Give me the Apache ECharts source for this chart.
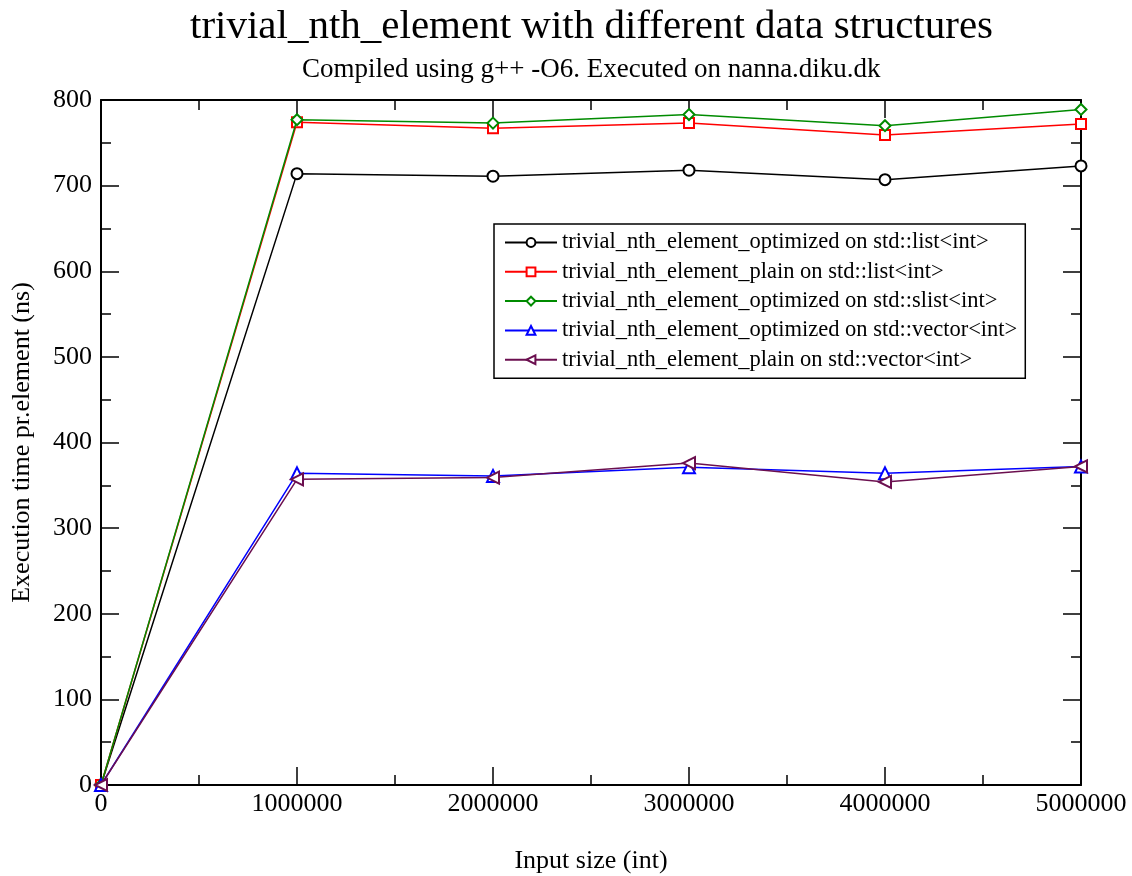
<!DOCTYPE html>
<html>
<head>
<meta charset="utf-8">
<script src="https://cdn.jsdelivr.net/npm/echarts@6/dist/echarts.min.js"></script>
<style>html,body{margin:0;padding:0;background:#fff}#c{width:1132px;height:876px}</style>
</head>
<body>
<div id="c"></div>
<script>
var xValues = [0, 1000000, 2000000, 3000000, 4000000, 5000000];
var optList = [0, 714, 711, 718, 707, 723];
var plainList = [0, 774, 767, 773, 759, 772];
var optSlist = [0, 777, 773, 783, 770, 789];
var optVector = [0, 364, 361, 371, 364, 372];
var plainVector = [0, 357, 359, 376, 354, 372];
var seriesNames = [
  'trivial_nth_element_optimized on std::list<int>',
  'trivial_nth_element_plain on std::list<int>',
  'trivial_nth_element_optimized on std::slist<int>',
  'trivial_nth_element_optimized on std::vector<int>',
  'trivial_nth_element_plain on std::vector<int>'
];
var seriesData = [optList, plainList, optSlist, optVector, plainVector];
var colors = ['#000000', '#ff0000', '#008b00', '#0000ff', '#6b0f4f'];
var symbols = ['emptyCircle', 'emptyRect', 'emptyDiamond', 'emptyTriangle', 'emptyTriangle'];
var symbolRot = [0, 0, 0, 0, 90];
var symbolSizes = [11, 10, 11, 12, 12];

var font = 'Liberation Serif, Times New Roman, serif';
function pairs(d){ return xValues.map(function(x,i){ return [x, d[i]]; }); }

var series = seriesData.map(function(d, i){
  return {
    name: seriesNames[i], type: 'line', data: pairs(d),
    xAxisIndex: 0, yAxisIndex: 0,
    symbol: symbols[i], symbolSize: symbolSizes[i], symbolRotate: symbolRot[i],
    showAllSymbol: true,
    color: colors[i],
    lineStyle: {color: colors[i], width: 1.5},
    itemStyle: {color: colors[i], borderColor: colors[i], borderWidth: 1.2},
    emphasis: {disabled: true}, animation: false, z: 5 + i
  };
});

var axisCommon = {
  type: 'value',
  axisLine: {show: true, onZero: false, lineStyle: {color: '#000', width: 2}},
  axisTick: {show: true, inside: true, length: 18, lineStyle: {color: '#000', width: 1.5}},
  minorTick: {show: true, splitNumber: 2, length: 10, lineStyle: {color: '#000', width: 1.5}},
  splitLine: {show: false}
};

var chart = echarts.init(document.getElementById('c'), null, {renderer: 'canvas'});
chart.setOption({
  backgroundColor: '#fff',
  animation: false,
  title: [
    {text: 'trivial_nth_element with different data structures', left: 185, top: 2,
     textStyle: {fontFamily: font, fontSize: 41, fontWeight: 'normal', color: '#000'}},
    {text: 'Compiled using g++ -O6. Executed on nanna.diku.dk', left: 297, top: 51,
     textStyle: {fontFamily: font, fontSize: 27, fontWeight: 'normal', color: '#000'}}
  ],
  legend: {
    orient: 'vertical', left: 494, top: 224,
    padding: [7, 8, 7, 10],
    itemGap: 6.3, itemWidth: 52, itemHeight: 11,
    borderColor: '#000', borderWidth: 1.5, backgroundColor: '#fff',
    textStyle: {fontFamily: font, fontSize: 22.5, color: '#000'},
    data: seriesNames
  },
  grid: {left: 101, right: 51, top: 100, bottom: 91, containLabel: false, outerBoundsMode: 'none'},
  xAxis: [
    Object.assign({}, axisCommon, {
      min: 0, max: 5000000, interval: 1000000, position: 'bottom',
      name: 'Input size (int)', nameLocation: 'middle', nameGap: 63,
      nameTextStyle: {fontFamily: font, fontSize: 26, color: '#000'},
      axisLabel: {fontFamily: font, fontSize: 26, color: '#000', margin: 6,
        formatter: function(v){ return String(v); }}
    }),
    Object.assign({}, axisCommon, {
      min: 0, max: 5000000, interval: 1000000, position: 'top',
      axisLabel: {show: false}
    })
  ],
  yAxis: [
    Object.assign({}, axisCommon, {
      min: 0, max: 800, interval: 100, position: 'left',
      name: 'Execution time pr.element (ns)', nameLocation: 'middle', nameGap: 66,
      nameTextStyle: {fontFamily: font, fontSize: 26, color: '#000'},
      axisLabel: {fontFamily: font, fontSize: 26, color: '#000', margin: 9}
    }),
    Object.assign({}, axisCommon, {
      min: 0, max: 800, interval: 100, position: 'right',
      axisLabel: {show: false}
    })
  ],
  series: series
});
</script>
</body>
</html>
